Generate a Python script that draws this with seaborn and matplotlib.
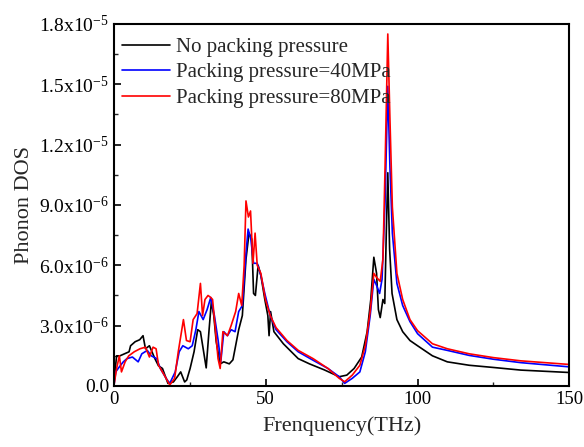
import numpy as np
import pandas as pd
import matplotlib
matplotlib.use("Agg")
import matplotlib.pyplot as plt
import seaborn as sns
from matplotlib.ticker import MultipleLocator, FixedLocator

# ---- data (values in units of 1e-6) ----
f_black = [0, 0.9, 2, 3.5, 5, 5.5, 7, 8.5, 9.6, 10.4, 11.7, 13.5, 14.7, 16, 17.8, 19.6, 20.9, 22, 23.3,
           24, 25.1, 26.4, 27.6, 28.5, 29.4, 30.4, 31.3, 32.1, 32.9, 33.7, 35, 36.2, 38, 39.2, 39.9,
           41.1, 42.3, 43.5, 44.5, 45.4, 46, 46.6, 47.5, 48.4, 49.7, 50.7, 51.1, 51.6, 52.7, 55.8,
           60.7, 64.4, 69.3, 74.2, 76.7, 79.1, 81.6, 83.4, 84.6, 85.6, 86.5, 87.1, 87.7, 88.6, 89.2,
           89.7, 90.2, 90.8, 91.6, 93.2, 95.1, 97.5, 100, 104.9, 109.8, 117, 125, 134, 150]
v_black = [0.2, 1.5, 1.5, 1.6, 1.7, 2.0, 2.2, 2.3, 2.5, 1.85, 2.0, 1.36, 1.0, 0.87, 0.13, 0.2, 0.46, 0.7, 0.2,
           0.3, 0.87, 1.7, 2.8, 2.7, 1.85, 0.9, 2.7, 4.2, 3.5, 2.2, 1.1, 1.2, 1.1, 1.3, 1.85,
           2.8, 3.5, 6.3, 7.6, 7.3, 4.6, 4.5, 6.0, 5.5, 4.3, 3.5, 2.5, 3.7, 2.7, 2.1,
           1.36, 1.1, 0.8, 0.46, 0.54, 0.87, 1.44, 2.7, 4.3, 6.4, 5.6, 3.8, 3.4, 4.3, 4.1,
           7.6, 10.6, 6.8, 4.6, 3.3, 2.7, 2.26, 2.0, 1.5, 1.2, 1.03, 0.92, 0.79, 0.67]

f_blue = [0, 0.6, 1.8, 3.1, 4.3, 6.1, 8, 9.2, 11, 12.3, 14.1, 15.3, 17.2, 18.4, 20.2, 21.5, 22.7, 24.5,
          25.8, 27, 28, 29.4, 30.7, 31.9, 33.1, 34.3, 35.2, 36.2, 37.4, 38.6, 39.9, 41.1, 42.3,
          43.5, 44.2, 45.1, 46, 47.2, 48.4, 49.7, 51.5, 53.4, 57, 60.7, 65.6, 70.5, 74.2, 76,
          78.5, 81, 82.8, 84.4, 85.6, 86.5, 87.5, 88.3, 89.3, 90.2, 90.9, 91.7, 93.2, 95.1, 97.5,
          100, 104.9, 109.8, 117, 125, 134, 150]
v_blue = [0.0, 0.7, 0.95, 1.2, 1.36, 1.44, 1.2, 1.6, 1.77, 1.5, 1.36, 0.87, 0.38, 0.13, 0.7, 1.7, 2.0, 1.85,
          2.0, 2.8, 3.7, 3.3, 3.8, 4.4, 3.5, 2.3, 1.2, 2.7, 2.5, 2.8, 2.7, 3.7, 4.0,
          6.6, 7.8, 7.3, 6.1, 6.1, 5.5, 4.6, 3.5, 2.8, 2.2, 1.7, 1.28, 0.87, 0.46, 0.13,
          0.38, 0.7, 1.7, 3.5, 5.3, 5.0, 4.6, 5.3, 9.2, 14.9, 10.9, 7.6, 5.1, 4.0, 3.2,
          2.6, 1.93, 1.77, 1.52, 1.33, 1.16, 0.95]

f_red = [0, 0.9, 1.8, 2.5, 3.7, 4.9, 6.7, 8.6, 10.4, 11.7, 12.9, 13.9, 14.7, 16.6, 18.4, 20, 21.2, 22.9,
         23.9, 25.1, 26.1, 27.4, 28.5, 29.2, 30, 31, 31.9, 32.5, 33.5, 34.3, 35, 35.9, 37.4, 38.6,
         40.1, 41.1, 42.1, 42.9, 43.5, 44.3, 45, 45.8, 46.5, 47.2, 48.4, 49.9, 51.5, 53.4, 57,
         60.7, 65.6, 70.5, 74.2, 76, 78.5, 81, 82.8, 84.4, 85.6, 86.5, 87.7, 88.6, 89.3, 90.2,
         90.9, 91.7, 93.2, 95.1, 97.5, 100, 104.9, 109.8, 117, 125, 134, 150]
v_red = [0.0, 0.87, 1.5, 0.7, 1.2, 1.5, 1.7, 1.85, 1.93, 1.44, 1.93, 1.85, 1.03, 0.54, 0.05, 0.38, 1.7, 3.3,
         2.26, 2.2, 3.3, 3.6, 5.1, 3.5, 4.3, 4.5, 4.4, 4.3, 2.7, 1.36, 0.87, 2.7, 2.5, 3.0,
         3.7, 4.6, 4.0, 6.0, 9.2, 8.4, 8.7, 6.1, 7.6, 6.0, 5.6, 4.3, 3.5, 2.9, 2.26,
         1.77, 1.36, 0.87, 0.38, 0.21, 0.54, 1.03, 2.0, 3.7, 5.6, 5.4, 5.2, 6.3, 10.9, 17.5,
         13.3, 8.9, 5.6, 4.3, 3.3, 2.75, 2.1, 1.85, 1.6, 1.41, 1.25, 1.07]

series_names = ["No packing pressure", "Packing pressure=40MPa", "Packing pressure=80MPa"]
series_colors = ["#000000", "#0000FF", "#FF0000"]

y_ticks = [0, 3e-6, 6e-6, 9e-6, 1.2e-5, 1.5e-5, 1.8e-5]
y_ticklabels = ["0.0", r"3.0x10$^{-6}$", r"6.0x10$^{-6}$", r"9.0x10$^{-6}$",
                r"1.2x10$^{-5}$", r"1.5x10$^{-5}$", r"1.8x10$^{-5}$"]
x_ticks = [0, 50, 100, 150]

df = pd.concat([
    pd.DataFrame({"f": f_black, "dos": np.array(v_black) * 1e-6, "s": series_names[0]}),
    pd.DataFrame({"f": f_blue, "dos": np.array(v_blue) * 1e-6, "s": series_names[1]}),
    pd.DataFrame({"f": f_red, "dos": np.array(v_red) * 1e-6, "s": series_names[2]}),
], ignore_index=True)

sns.set_theme(style="ticks")
plt.rcParams['font.family'] = ['Liberation Serif', 'DejaVu Serif']
plt.rcParams['mathtext.fontset'] = 'custom'
plt.rcParams['mathtext.rm'] = 'Liberation Serif'
plt.rcParams['mathtext.it'] = 'Liberation Serif'

fig = plt.figure(figsize=(5.84, 4.47), dpi=100)
ax = fig.add_axes([0.195, 0.1365, 0.780, 0.81])

sns.lineplot(data=df, x="f", y="dos", hue="s", hue_order=series_names,
             palette=dict(zip(series_names, series_colors)), linewidth=1.2,
             sort=False, estimator=None, ax=ax)

ax.set_xlim(0, 150)
ax.set_ylim(0, 1.8e-5)
ax.xaxis.set_major_locator(FixedLocator(x_ticks))
ax.set_xticklabels([str(t) for t in x_ticks])
ax.xaxis.set_minor_locator(MultipleLocator(25))
ax.yaxis.set_major_locator(FixedLocator(y_ticks))
ax.set_yticklabels(y_ticklabels)
ax.yaxis.set_minor_locator(MultipleLocator(1.5e-6))
ax.tick_params(axis='both', which='major', direction='in', length=5, width=1.2,
               labelsize=14, colors='black', top=False, right=False)
ax.tick_params(axis='x', which='major', labelsize=13.5)
ax.tick_params(axis='both', which='minor', direction='in', length=3, width=1.0,
               top=False, right=False)
for sp in ax.spines.values():
    sp.set_linewidth(1.5)
    sp.set_color('black')
    sp.set_visible(True)

ax.set_xlabel("Frenquency(THz)", fontsize=16, labelpad=6)
ax.set_ylabel("Phonon DOS", fontsize=16, labelpad=4)

leg = ax.legend(loc="upper left", bbox_to_anchor=(-0.012, 1.0), frameon=False,
                fontsize=15, handlelength=2.3, handletextpad=0.3,
                labelspacing=0.28, borderaxespad=0.25)

fig.savefig("out.png", dpi=100)
